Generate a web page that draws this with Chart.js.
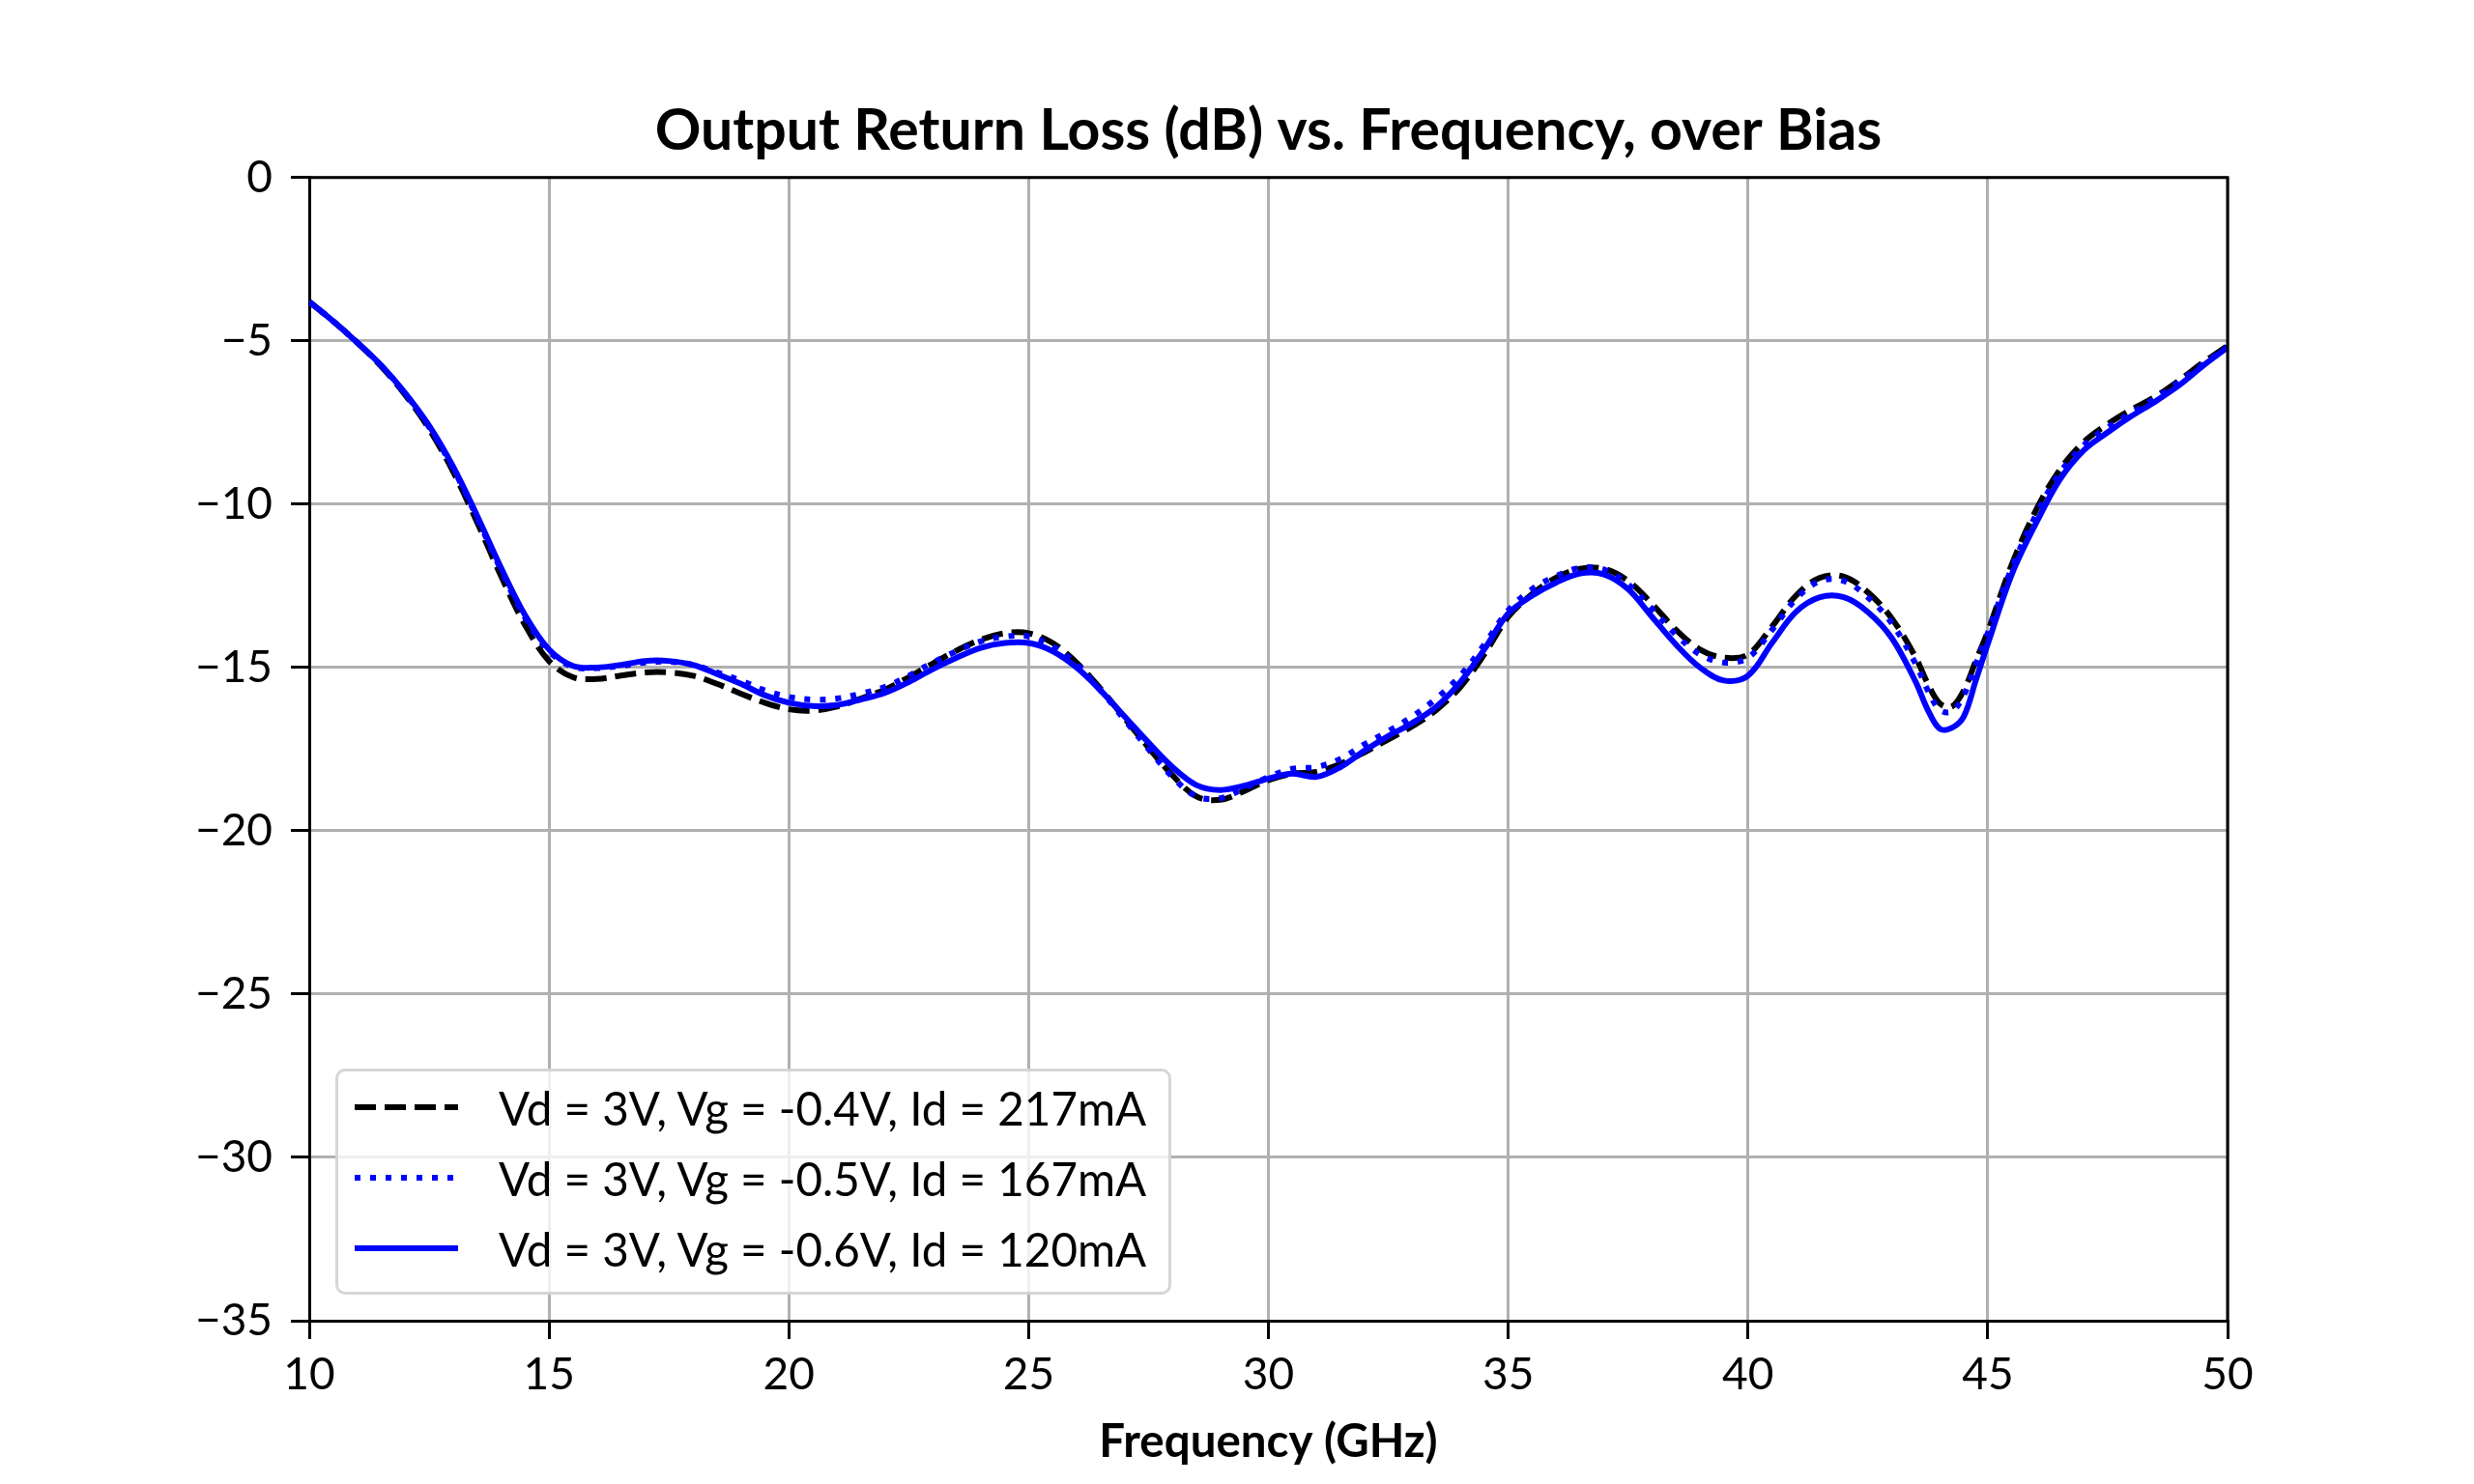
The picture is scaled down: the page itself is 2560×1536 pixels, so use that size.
<!DOCTYPE html>
<html>
<head>
<meta charset="utf-8">
<script src="https://cdn.jsdelivr.net/npm/chart.js@4.4.1/dist/chart.umd.min.js"></script>
<style>
  html, body { margin: 0; padding: 0; background: #fff; }
  #wrap { position: relative; width: 2560px; height: 1536px; }
  #legend {
    position: absolute; left: 347px; top: 1106px; width: 859px; height: 228px;
    background: rgba(255,255,255,0.8); border: 3px solid rgba(204,204,204,0.8);
    border-radius: 10px; font-family: Lato, "Noto Sans", sans-serif; font-size: 47.5px; color: #000;
  }
  #legend .row { position: absolute; left: 0; height: 60px; display: flex; align-items: center; }
  #legend svg { margin-left: 17px; margin-right: 42px; }
</style>
</head>
<body>
<div id="wrap">
  <canvas id="chart" width="2560" height="1536"></canvas>
  <div id="legend"></div>
</div>
<script>
const freq = [10, 10.5, 11, 11.5, 12, 12.5, 13, 13.5, 14, 14.5, 15, 15.5, 16, 16.5, 17, 17.5, 18, 18.5, 19, 19.5,
  20, 20.5, 21, 21.5, 22, 22.5, 23, 23.5, 24, 24.5, 25, 25.5, 26, 26.5, 27, 27.5, 28, 28.5, 29, 29.5,
  30, 30.5, 31, 31.5, 32, 32.5, 33, 33.5, 34, 34.5, 35, 35.5, 36, 36.5, 37, 37.5, 38, 38.5, 39, 39.5,
  40, 40.5, 41, 41.5, 42, 42.5, 43, 43.5, 43.75, 44, 44.25, 44.5, 44.75, 45, 45.5, 46, 46.5, 47, 47.5,
  48, 48.5, 49, 49.5, 50];

// Vg = -0.4V (black dashed)
const rl04 = [-3.80, -4.40, -5.05, -5.78, -6.65, -7.70, -9.00, -10.55, -12.20, -13.70, -14.80, -15.30, -15.35, -15.25, -15.15, -15.15, -15.25, -15.50, -15.80, -16.08,
  -16.28, -16.32, -16.20, -15.95, -15.68, -15.30, -14.88, -14.48, -14.15, -13.95, -13.95, -14.25, -14.85, -15.65, -16.55, -17.45, -18.30, -18.95, -19.05, -18.78,
  -18.45, -18.25, -18.20, -17.95, -17.60, -17.20, -16.80, -16.30, -15.60, -14.60, -13.45, -12.75, -12.25, -11.98, -11.98, -12.35, -13.05, -13.85, -14.45, -14.70,
  -14.60, -13.75, -12.80, -12.25, -12.22, -12.70, -13.50, -14.70, -15.50, -16.10, -16.20, -15.70, -14.80, -13.90, -11.85, -10.20, -8.95, -8.10, -7.55,
  -7.10, -6.70, -6.20, -5.65, -5.15];

// Vg = -0.5V (blue dotted)
const rl05 = [-3.80, -4.40, -5.05, -5.76, -6.62, -7.64, -8.90, -10.42, -12.02, -13.48, -14.50, -14.98, -15.02, -14.95, -14.85, -14.82, -14.92, -15.15, -15.40, -15.70,
  -15.90, -15.98, -15.95, -15.80, -15.60, -15.25, -14.85, -14.50, -14.20, -14.05, -14.05, -14.35, -14.90, -15.70, -16.60, -17.50, -18.35, -18.95, -19.00, -18.70,
  -18.35, -18.10, -18.05, -17.80, -17.35, -16.95, -16.50, -15.95, -15.25, -14.30, -13.25, -12.60, -12.20, -11.95, -12.00, -12.45, -13.20, -14.00, -14.60, -14.85,
  -14.70, -13.85, -12.90, -12.35, -12.35, -12.85, -13.65, -14.90, -15.70, -16.30, -16.35, -15.85, -14.90, -13.95, -11.95, -10.35, -9.05, -8.20, -7.65,
  -7.20, -6.75, -6.25, -5.70, -5.18];

// Vg = -0.6V (blue solid)
const rl06 = [-3.80, -4.40, -5.05, -5.75, -6.60, -7.60, -8.85, -10.35, -11.95, -13.40, -14.45, -14.95, -15.00, -14.92, -14.80, -14.80, -14.92, -15.20, -15.50, -15.85,
  -16.08, -16.18, -16.15, -15.98, -15.78, -15.45, -15.05, -14.70, -14.40, -14.25, -14.25, -14.50, -15.00, -15.70, -16.50, -17.30, -18.05, -18.60, -18.75, -18.62,
  -18.40, -18.25, -18.35, -18.05, -17.55, -17.10, -16.70, -16.20, -15.45, -14.45, -13.35, -12.80, -12.40, -12.12, -12.15, -12.60, -13.45, -14.30, -15.00, -15.40,
  -15.25, -14.25, -13.30, -12.85, -12.85, -13.30, -14.10, -15.45, -16.30, -16.88, -16.85, -16.50, -15.40, -14.28, -12.15, -10.60, -9.25, -8.35, -7.80,
  -7.30, -6.85, -6.35, -5.75, -5.20];

const seriesLabels = ["Vd = 3V, Vg = -0.4V, Id = 217mA", "Vd = 3V, Vg = -0.5V, Id = 167mA", "Vd = 3V, Vg = -0.6V, Id = 120mA"];
const xTicks = [10, 15, 20, 25, 30, 35, 40, 45, 50];
const yTicks = [0, -5, -10, -15, -20, -25, -30, -35];

const FONT = 'Lato, "Noto Sans", sans-serif';
const LW = 6;
const styles = [
  { color: "#000000", dash: [22, 9] },
  { color: "#0000ff", dash: [6, 10] },
  { color: "#0000ff", dash: [] }
];

function points(ys) {
  return freq.map((f, i) => ({ x: f, y: ys[i] }));
}

// top and right spines, like the plot frame
const frame = {
  id: "frame",
  afterLayout(chart) {
    // centre the title over the plot area, not the whole canvas
    const t = chart.titleBlock;
    if (t) {
      t.left = chart.chartArea.left;
      t.right = chart.chartArea.right;
      t.width = t.right - t.left;
    }
  },
  afterDatasetsDraw(chart) {
    const a = chart.chartArea;
    const ctx = chart.ctx;
    ctx.save();
    ctx.strokeStyle = "#000";
    ctx.lineWidth = 3;
    ctx.beginPath();
    ctx.moveTo(a.left, a.top);
    ctx.lineTo(a.right, a.top);
    ctx.lineTo(a.right, a.bottom);
    ctx.stroke();
    ctx.restore();
  }
};

const datasets = [rl04, rl05, rl06].map((ys, i) => ({
  label: seriesLabels[i],
  data: points(ys),
  borderColor: styles[i].color,
  borderWidth: LW,
  borderDash: styles[i].dash,
  borderJoinStyle: "round",
  pointRadius: 0,
  tension: 0.35,
  order: 2 - i
}));

new Chart(document.getElementById("chart"), {
  type: "line",
  data: { datasets },
  plugins: [frame],
  options: {
    responsive: false,
    animation: false,
    devicePixelRatio: 1,
    layout: { padding: { left: 0, right: 255, top: 0, bottom: 0 } },
    plugins: {
      legend: { display: false },
      tooltip: { enabled: false },
      title: {
        display: true,
        text: "Output Return Loss (dB) vs. Frequency, over Bias",
        color: "#000",
        font: { family: FONT, size: 59, weight: "bold", lineHeight: 1.2 },
        padding: { top: 101, bottom: 12 }
      }
    },
    scales: {
      x: {
        type: "linear",
        min: 10,
        max: 50,
        afterBuildTicks: s => { s.ticks = xTicks.map(v => ({ value: v })); },
        afterFit: s => { s.height = 169; },
        ticks: { color: "#000", font: { family: FONT, size: 46 }, padding: 10, maxRotation: 0 },
        grid: { color: "#b0b0b0", lineWidth: 3, tickColor: "#000", tickWidth: 3, tickLength: 19 },
        border: { display: true, color: "#000", width: 3 },
        title: {
          display: true,
          text: "Frequency (GHz)",
          color: "#000",
          font: { family: FONT, size: 47.5, weight: "bold", lineHeight: 1.2 },
          padding: { top: 0, bottom: 15 }
        }
      },
      y: {
        min: -35,
        max: 0,
        afterBuildTicks: s => { s.ticks = yTicks.map(v => ({ value: v })); },
        afterFit: s => { s.width = 320; },
        ticks: {
          color: "#000",
          font: { family: FONT, size: 46 },
          padding: 19,
          callback: v => (v < 0 ? "\u2212" + Math.abs(v) : String(v))
        },
        grid: { color: "#b0b0b0", lineWidth: 3, tickColor: "#000", tickWidth: 3, tickLength: 19 },
        border: { display: true, color: "#000", width: 3 }
      }
    }
  }
});

// legend as html, placed inside the plot area at lower left
const legend = document.getElementById("legend");
const rowTops = [7, 80, 153];
seriesLabels.forEach((txt, i) => {
  const row = document.createElement("div");
  row.className = "row";
  row.style.top = rowTops[i] + "px";
  const dash = styles[i].dash.length ? styles[i].dash.join(" ") : "none";
  row.innerHTML =
    '<svg width="107" height="20"><line x1="0" y1="10" x2="107" y2="10" stroke="' + styles[i].color +
    '" stroke-width="' + LW + '" stroke-dasharray="' + dash + '"/></svg><span>' + txt + "</span>";
  legend.appendChild(row);
});
</script>
</body>
</html>
